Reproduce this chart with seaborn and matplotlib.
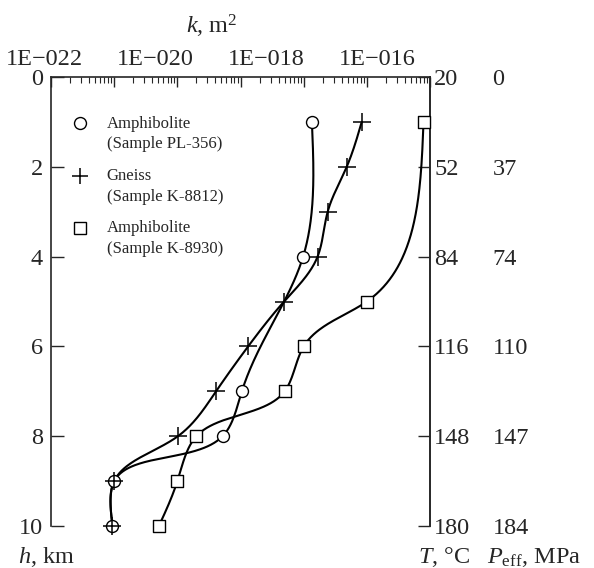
import numpy as np
import seaborn as sns
import matplotlib.pyplot as plt
from matplotlib.lines import Line2D
from matplotlib.legend_handler import HandlerLine2D
from matplotlib.ticker import LogLocator, NullFormatter

# permeability k (m^2) against depth h (km)
depth_pl356 = [1, 4, 7, 8, 9, 10]
k_pl356 = [1.35e-18, 9.8e-19, 1.05e-19, 5.2e-20, 1.0e-21, 9.4e-22]

depth_k8812 = [1, 2, 3, 4, 5, 6, 7, 8, 9, 10]
k_k8812 = [8.3e-18, 4.8e-18, 2.4e-18, 1.66e-18, 4.9e-19, 1.32e-19, 4.1e-20, 1.02e-20, 1.0e-21, 9.4e-22]

depth_k8930 = [1, 5, 6, 7, 8, 9, 10]
k_k8930 = [7.9e-17, 1.0e-17, 1.0e-18, 5.0e-19, 2.0e-20, 1.0e-20, 5.1e-21]

h_ticks = [0, 2, 4, 6, 8, 10]
T_labels = ["20", "52", "84", "116", "148", "180"]
P_labels = ["0", "37", "74", "110", "147", "184"]
k_labels = ["1E\u2212022", "1E\u2212020", "1E\u2212018", "1E\u2212016"]

legend_labels = ["Amphibolite\n(Sample PL-356)",
                 "Gneiss\n(Sample K-8812)",
                 "Amphibolite\n(Sample K-8930)"]

sns.set_style("ticks")
plt.rcParams['font.family'] = ['Liberation Serif', 'DejaVu Serif']
plt.rcParams['mathtext.fontset'] = 'custom'
plt.rcParams['mathtext.rm'] = 'Liberation Serif'
plt.rcParams['mathtext.it'] = 'Liberation Serif:italic'
FS = 17.5


def natural_spline(t, v, tt):
    n = len(t)
    h = np.diff(t)
    A = np.zeros((n, n))
    r = np.zeros(n)
    A[0, 0] = A[-1, -1] = 1
    for i in range(1, n - 1):
        A[i, i - 1] = h[i - 1]
        A[i, i] = 2 * (h[i - 1] + h[i])
        A[i, i + 1] = h[i]
        r[i] = 3 * ((v[i + 1] - v[i]) / h[i] - (v[i] - v[i - 1]) / h[i - 1])
    c = np.linalg.solve(A, r)
    b = (v[1:] - v[:-1]) / h - h * (2 * c[:-1] + c[1:]) / 3
    d = (c[1:] - c[:-1]) / (3 * h)
    idx = np.clip(np.searchsorted(t, tt, side='right') - 1, 0, n - 2)
    dt = tt - t[idx]
    return v[idx] + b[idx] * dt + c[idx] * dt ** 2 + d[idx] * dt ** 3


def smooth_curve(k, depth):
    lk = np.log10(k)
    dep = np.asarray(depth, float)
    # chord length in (roughly) screen units
    seg = np.hypot(np.diff(lk) * 63.2, np.diff(dep) * 44.9)
    t = np.concatenate([[0], np.cumsum(seg)])
    tt = np.linspace(0, t[-1], 400)
    return 10 ** natural_spline(t, lk, tt), natural_spline(t, dep, tt)


class FirstLineHandler(HandlerLine2D):
    def __init__(self, shift, **kw):
        super().__init__(**kw)
        self.shift = shift

    def create_artists(self, legend, orig_handle, xdescent, ydescent,
                       width, height, fontsize, trans):
        arts = super().create_artists(legend, orig_handle, xdescent, ydescent,
                                      width, height, fontsize, trans)
        for a in arts:
            a.set_ydata(np.asarray(a.get_ydata(), float) + self.shift * fontsize)
        return arts


fig, ax = plt.subplots(figsize=(5.94, 5.68), dpi=100)
fig.subplots_adjust(left=0.0859, right=0.7239, bottom=0.0739, top=0.8644)

series = [
    (k_pl356, depth_pl356, dict(marker='o', s=74, facecolor='white', edgecolor='black', linewidth=1.0)),
    (k_k8812, depth_k8812, dict(marker='+', s=150, color='black', linewidth=1.1)),
    (k_k8930, depth_k8930, dict(marker='s', s=80, facecolor='white', edgecolor='black', linewidth=1.0)),
]
for k, dep, mk in series:
    xs, ys = smooth_curve(k, dep)
    sns.lineplot(x=xs, y=ys, sort=False, estimator=None, color='black', lw=1.5, ax=ax,
                 zorder=2, clip_on=False)
for k, dep, mk in series:
    sns.scatterplot(x=k, y=dep, ax=ax, zorder=3, clip_on=False, **mk)

ax.set_xscale('log')
ax.set_xlim(1e-22, 1e-16)
ax.set_ylim(10, 0)
ax.xaxis.tick_top()
ax.xaxis.set_major_locator(LogLocator(base=10, numticks=10))
ax.xaxis.set_minor_locator(LogLocator(base=10, subs=np.arange(2, 10), numticks=10))
ax.xaxis.set_major_formatter(NullFormatter())
ax.xaxis.set_minor_formatter(NullFormatter())
ax.tick_params(axis='x', which='major', direction='in', length=7, width=1.0)
ax.tick_params(axis='x', which='minor', direction='in', length=4, width=0.8)

ax.set_yticks(h_ticks)
ax.set_yticklabels([str(h) for h in h_ticks])
ax.tick_params(axis='y', direction='in', length=9, width=1.0, pad=6, labelsize=FS,
               left=True, right=False)
ax.set_xlabel("")
ax.set_ylabel("")

for side in ['top', 'left', 'right']:
    ax.spines[side].set_linewidth(1.2)
ax.spines['bottom'].set_visible(False)

secT = ax.secondary_yaxis('right')
secT.set_yticks(h_ticks)
secT.set_yticklabels(T_labels)
secT.tick_params(direction='in', length=9, width=1.0, pad=3, labelsize=FS)
secT.spines['right'].set_linewidth(1.2)

secP = ax.secondary_yaxis('right')
secP.set_yticks(h_ticks)
secP.set_yticklabels(P_labels)
secP.tick_params(length=0, pad=45, labelsize=FS)
secP.spines['right'].set_visible(False)

for i, lab in enumerate(k_labels):
    ax.text(-0.018 + 0.293 * i, 1.027, lab, transform=ax.transAxes,
            ha='center', va='baseline', fontsize=FS)
ax.text(0.425, 1.098, r"$k$, m$^2$", transform=ax.transAxes, ha='center', va='baseline', fontsize=FS)
ax.text(-0.087, -0.082, r"$h$, km", transform=ax.transAxes, ha='left', va='baseline', fontsize=FS)
ax.text(0.968, -0.082, r"$T$, °C", transform=ax.transAxes, ha='left', va='baseline', fontsize=FS)
ax.text(1.150, -0.082, r"$P_{\rm eff}$, MPa", transform=ax.transAxes, ha='left', va='baseline', fontsize=FS)

handles = [
    Line2D([], [], ls='none', marker='o', ms=8.6, mfc='white', mec='black', mew=1.0),
    Line2D([], [], ls='none', marker='+', ms=12, color='black', mew=1.1),
    Line2D([], [], ls='none', marker='s', ms=8.6, mfc='white', mec='black', mew=1.0),
]
leg = ax.legend(handles, legend_labels, loc='upper left', bbox_to_anchor=(0.055, 0.914),
                frameon=False, prop={'size': 12}, handlelength=1.0, handletextpad=1.1,
                labelspacing=0.95, borderpad=0, borderaxespad=0,
                handler_map={Line2D: FirstLineHandler(0.65)})
for t in leg.get_texts():
    t.set_linespacing(1.38)

fig.savefig("out.png", dpi=100)
